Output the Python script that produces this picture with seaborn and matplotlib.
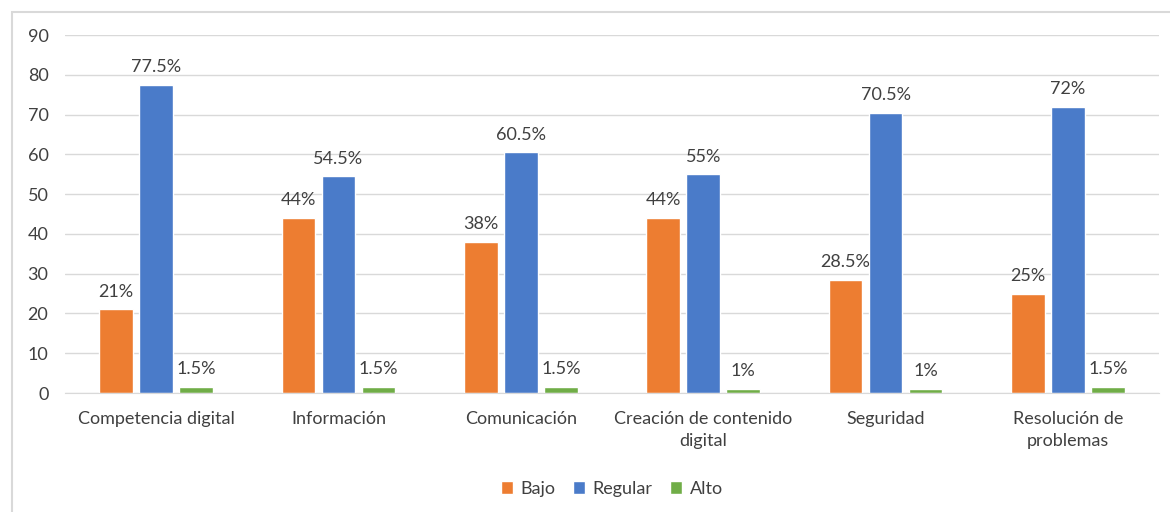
import pandas as pd
import seaborn as sns
import matplotlib.pyplot as plt
from matplotlib.patches import Rectangle

# Niveles por dimension (%)
categorias = ['Competencia digital', 'Información', 'Comunicación',
              'Creación de contenido\ndigital', 'Seguridad', 'Resolución de\nproblemas']
bajo = [21, 44, 38, 44, 28.5, 25]
regular = [77.5, 54.5, 60.5, 55, 70.5, 72]
alto = [1.5, 1.5, 1.5, 1, 1, 1.5]
niveles = ['Bajo', 'Regular', 'Alto']
colores = ['#ED7D31', '#4A7BC9', '#70AD47']

data = pd.DataFrame({
    'categoria': categorias * 3,
    'nivel': [n for n in niveles for _ in categorias],
    'valor': bajo + regular + alto,
})

sns.set_style('white')
plt.rcParams['font.family'] = ['Lato', 'DejaVu Sans']

fig = plt.figure(figsize=(11.7, 5.12), dpi=100)
ax = fig.add_axes([0.0556, 0.2324, 0.935, 0.6992])

sns.barplot(data=data, x='categoria', y='valor', hue='nivel', order=categorias,
            hue_order=niveles, palette=colores, width=0.66, gap=0.16,
            saturation=1, ax=ax)

# Etiquetas de datos
for cont in ax.containers:
    labels = [f'{v:g}%' for v in cont.datavalues]
    ax.bar_label(cont, labels=labels, padding=7, fontsize=13, color='#404040')

ax.set_ylim(0, 90)
ax.set_yticks(range(0, 91, 10))
ax.set_xlabel('')
ax.set_ylabel('')
ax.grid(axis='y', color='#D9D9D9', linewidth=1)
ax.set_axisbelow(True)
for s in ['left', 'right', 'top']:
    ax.spines[s].set_visible(False)
ax.spines['bottom'].set_color('#D9D9D9')
ax.tick_params(axis='both', length=0, labelsize=13, labelcolor='#404040')
ax.tick_params(axis='x', pad=13)
ax.tick_params(axis='y', pad=12)
for t in ax.get_xticklabels():
    t.set_linespacing(1.45)

ax.legend(loc='upper center', bbox_to_anchor=(0.5, -0.2), ncol=3, frameon=False,
          fontsize=13, handlelength=0.65, handleheight=0.65, handletextpad=0.4,
          columnspacing=1.0, labelcolor='#404040')

# Borde del grafico
fig.patches.append(Rectangle((12 / 1170, -0.1), 1.1, 1.1 - 12 / 512,
                             transform=fig.transFigure, fill=False,
                             edgecolor='#D9D9D9', linewidth=1.5))

fig.savefig('out.png', dpi=100)
